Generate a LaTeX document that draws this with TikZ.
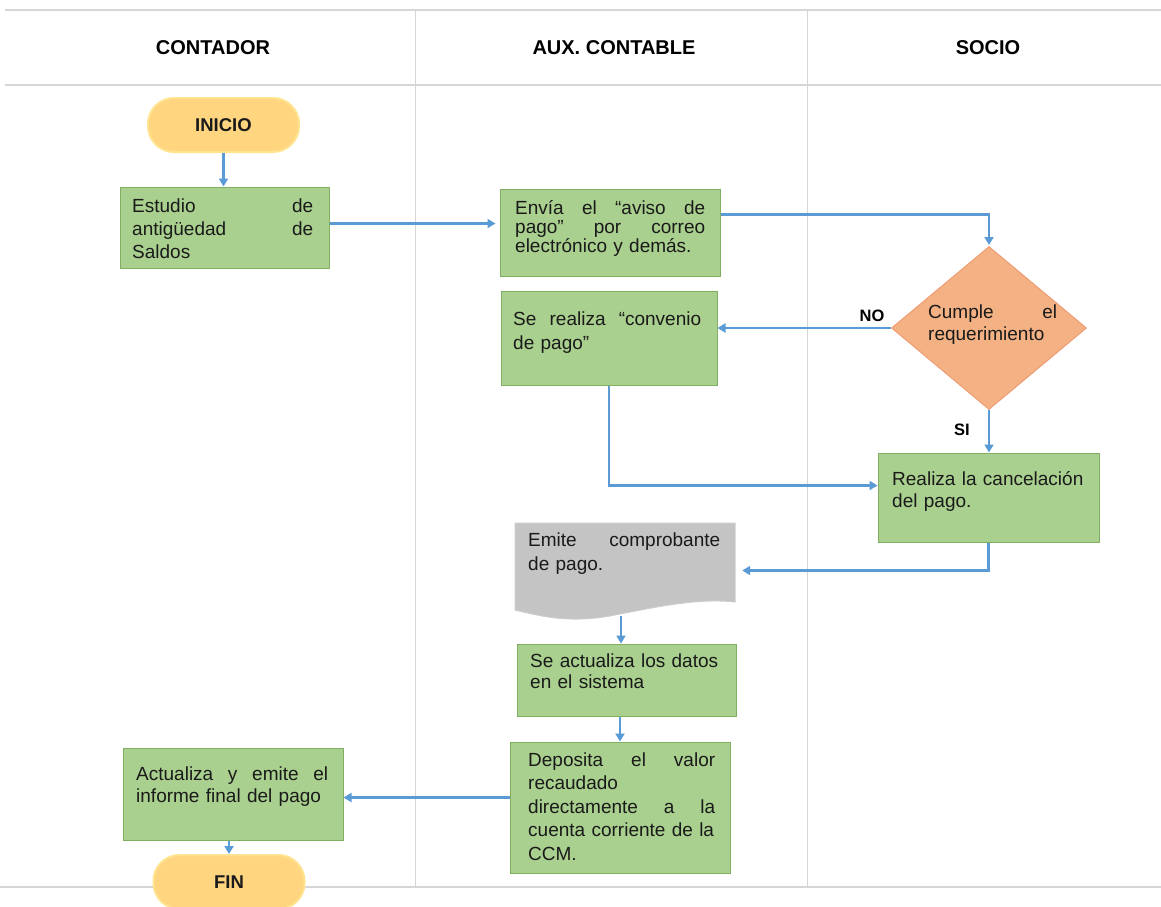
\documentclass[tikz,border=0pt]{standalone}
\usepackage{fontspec}
\setmainfont{Liberation Sans}
\usetikzlibrary{shapes.geometric,arrows.meta}
\definecolor{gfill}{HTML}{A9D08E}
\definecolor{gdraw}{HTML}{7FAF5F}
\definecolor{tfill}{HTML}{FFD580}
\definecolor{tdraw}{HTML}{FFE38F}
\definecolor{dfill}{HTML}{F4B183}
\definecolor{ddraw}{HTML}{EF9B73}
\definecolor{docfill}{HTML}{C4C4C4}
\definecolor{docdraw}{HTML}{CDCDCD}
\definecolor{arrowc}{HTML}{5B9BD5}
\definecolor{gridc}{HTML}{D6D6D6}
\definecolor{txt}{HTML}{1A1A1A}
\begin{document}
\begin{tikzpicture}[x=1pt,y=-1pt,
 box/.style={draw=gdraw, fill=gfill, line width=1pt, inner sep=0pt},
 term/.style={draw=tdraw, fill=tfill, line width=2pt, rounded corners=26pt, inner sep=0pt,
   minimum width=151pt, minimum height=54pt, font=\bfseries\fontsize{18.5}{18.5}\selectfont, text=txt},
 txtbox/.style={anchor=base west, inner sep=0pt, align=left, text=txt, font=\fontsize{19}{#1}\selectfont},
 head/.style={font=\bfseries\fontsize{20}{20}\selectfont, text=black},
 flow/.style={draw=arrowc, line width=2.4pt, -{Triangle[length=8pt,width=9pt]}},
 lbl/.style={font=\bfseries\fontsize{16.5}{16.5}\selectfont, text=black},
 lane/.style={draw=gridc, line width=1pt},
 hline/.style={draw=gridc, line width=2pt}]
\useasboundingbox (0,0) rectangle (1161,906);
% lanes
\draw[hline] (5,10) -- (1161,10);
\draw[hline] (5,85) -- (1161,85);
\draw[hline] (0,887) -- (1161,887);
\draw[lane] (415,10) -- (415,887);
\draw[lane] (807,10) -- (807,887);
\node[head] (h1) at (213,48) {CONTADOR};
\node[head] (h2) at (614,48) {AUX. CONTABLE};
\node[head] (h3) at (988,48) {SOCIO};
% shapes
\node[term] (ini) at (223.5,125) {INICIO};
\node[box, minimum width=209pt, minimum height=81pt] (est) at (224.5,227.5) {};
\node[box, minimum width=220pt, minimum height=87pt] (env) at (610,232.5) {};
\node[box, minimum width=216pt, minimum height=94pt] (sr) at (609,338) {};
\node[diamond, draw=ddraw, fill=dfill, line width=1pt, inner sep=0pt, minimum width=195pt, minimum height=163pt] (dia) at (989,328) {};
\node[box, minimum width=221pt, minimum height=89pt] (rea) at (988.5,497.5) {};
\node[inner sep=0pt, minimum width=220pt, minimum height=95pt] (doc) at (625,570.5) {};
\draw[draw=docdraw, fill=docfill, line width=1pt] (515,523) -- (735,523) -- (735,602)
  .. controls (700,598) and (660,606) .. (615,615)
  .. controls (570,624) and (540,616) .. (515,610) -- cycle;
\node[box, minimum width=219pt, minimum height=72pt] (sa) at (626.5,680) {};
\node[box, minimum width=220pt, minimum height=131pt] (dep) at (620,807.5) {};
\node[box, minimum width=220pt, minimum height=92pt] (act) at (233,794) {};
\node[term] (fin) at (229,882) {FIN};
% texts
\node[txtbox=23pt, text width=181pt] (t1) at (132,212) {Estudio\hfill de\\antigüedad\hfill de\\Saldos};
\node[txtbox=19pt, text width=190pt] (t2) at (515,214) {Envía\hfill el\hfill “aviso\hfill de\\pago”\hfill por\hfill correo\\electrónico y demás.};
\node[txtbox=24pt, text width=188pt] (t3) at (513,325) {Se\hfill realiza\hfill “convenio\\de pago”};
\node[txtbox=22pt, text width=129pt] (t4) at (928,318) {Cumple\hfill el\\requerimiento};
\node[txtbox=22pt, text width=200pt] (t5) at (892,485) {Realiza la cancelación\\del pago.};
\node[txtbox=24pt, text width=192pt] (t6) at (528,546) {Emite\hfill comprobante\\de pago.};
\node[txtbox=21pt, text width=195pt] (t7) at (530,667) {Se actualiza los datos\\en el sistema};
\node[txtbox=23.5pt, text width=187pt] (t8) at (528,766) {Deposita\hfill el\hfill valor\\recaudado\\directamente\hfill a\hfill la\\\mbox{cuenta corriente de la}\\CCM.};
\node[txtbox=22pt, text width=192pt] (t9) at (136,780) {Actualiza\hfill y\hfill emite\hfill el\\informe final del pago};
% labels
\node[lbl] (no) at (872,316) {NO};
\node[lbl] (si) at (962,430) {SI};
% connectors
\draw[flow] (ini.south) -- (ini.south |- est.north);
\draw[flow, shorten >=4pt] ([yshift=4pt]est.east) -- ([yshift=4pt]est.east -| env.west);
\draw[flow] ([yshift=18pt]env.east) -| ([yshift=1pt]dia.north);
\draw[flow] (dia.west) -- (dia.west -| sr.east);
\draw[flow] (sr.south) |- ([yshift=12pt]rea.west);
\draw[flow] (dia.south) -- (dia.south |- rea.north);
\draw[flow, shorten >=7pt] (rea.south) |- (doc.east);
\draw[flow] ([xshift=-4pt,yshift=2pt]doc.south) -- ([xshift=-4pt]doc.south |- sa.north);
\draw[flow] (dep.north |- sa.south) -- (dep.north);
\draw[flow] ([yshift=10pt]dep.west) -- ([yshift=10pt]dep.west -| act.east);
\draw[flow] (fin.north |- act.south) -- (fin.north);
\end{tikzpicture}
\end{document}
